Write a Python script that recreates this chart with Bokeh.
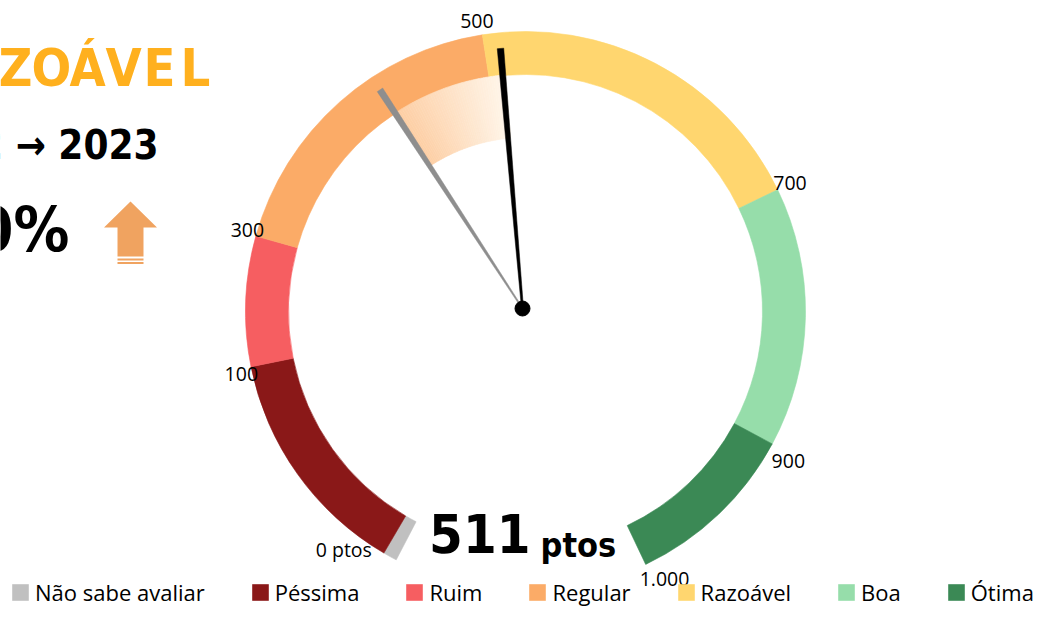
import numpy as np
from bokeh.plotting import figure
from bokeh.models import Range1d, ColumnDataSource
from bokeh.core.properties import value
from bokeh.embed import file_html
from bokeh.resources import INLINE

# ---------------- data ----------------
categories = ["Não sabe avaliar", "Péssima", "Ruim", "Regular", "Razoável", "Boa", "Ótima"]
segment_pct = [0.8, 13.4, 7.5, 18.2, 20.3, 15.0, 10.1]      # share of the full doughnut (%)
boundary_scores = [0, 100, 300, 500, 700, 900, 1000]
boundary_labels = ["0 ptos", "100", "300", "500", "700", "900", "1.000"]
years = ["2022", "2023"]
scores = [426, 511]                                          # 2022, 2023
current_class = "RAZOÁVEL"

# ---------------- style ----------------
seg_colors = ["#C0C0C0", "#8A1818", "#F65E61", "#FBAB67", "#FFD66F", "#96DDAA", "#3B8955"]
ORANGE = "#FFB01E"
ARROW_C = "#F0A360"
NARROW = "'DejaVu Sans Condensed', Roboto, sans-serif"
LABEL_FONT = "Open Sans"

W, H = 1040, 607
SHIFT = 5                     # gauge moved up a little so the legend fits
# picture pixel coordinates: x right, y up = -picture_y
CX, CY = 525, -316 + SHIFT    # ring centre
PX, PY = 522, -313 + SHIFT    # needle pivot
R_OUT, R_IN = 280, 237
FIRST_ANGLE = -152.5          # clockwise from 12 o'clock
NEEDLE_LEN = 261

p = figure(width=W, height=H, x_range=Range1d(0, W), y_range=Range1d(-H, 0),
           output_backend="svg", toolbar_location=None, min_border=0,
           x_axis_location=None, y_axis_location=None)
p.xgrid.visible = False
p.ygrid.visible = False
p.outline_line_color = None
p.background_fill_color = "white"


def to_math(theta_deg):
    return np.radians(90.0 - np.asarray(theta_deg, dtype=float))


deg = np.array(segment_pct) * 3.6
edges = FIRST_ANGLE + np.concatenate([[0.0], np.cumsum(deg)])
bound_angles = edges[1:]


def score_angle(s):
    return float(np.interp(s, boundary_scores, bound_angles))


# ring segments
src = ColumnDataSource(dict(cat=categories, color=seg_colors,
                            start=to_math(edges[1:]), end=to_math(edges[:-1])))
p.annular_wedge(x=CX, y=CY, inner_radius=R_IN, outer_radius=R_OUT,
                start_angle="start", end_angle="end", fill_color="color",
                line_color="color", line_width=0.6, source=src, legend_field="cat")

# pale gradient band between previous and current score
a_prev, a_cur = score_angle(scores[0]), score_angle(scores[1])
n = 48
ths = np.linspace(a_prev, a_cur, n + 1)
c0 = np.array([0xFD, 0xCE, 0xA4]); c1 = np.array([0xFF, 0xF6, 0xEA])
grad_cols = []
for i in range(n):
    t = i / (n - 1)
    c = (c0 * (1 - t) + c1 * t).round().astype(int)
    grad_cols.append("#%02X%02X%02X" % tuple(c))
p.annular_wedge(x=CX, y=CY, inner_radius=174, outer_radius=R_IN + 0.5,
                start_angle=to_math(ths[1:]), end_angle=to_math(ths[:-1]),
                fill_color=grad_cols, line_color=grad_cols, line_width=0.6)


def needle(theta, w_base, w_tip, color):
    t = np.radians(theta)
    ux, uy = np.sin(t), np.cos(t)
    nx, ny = np.cos(t), -np.sin(t)
    tx, ty = PX + ux * NEEDLE_LEN, PY + uy * NEEDLE_LEN
    xs = [PX + nx * w_base / 2, tx + nx * w_tip / 2, tx - nx * w_tip / 2, PX - nx * w_base / 2]
    ys = [PY + ny * w_base / 2, ty + ny * w_tip / 2, ty - ny * w_tip / 2, PY - ny * w_base / 2]
    p.patch(xs, ys, fill_color=color, line_color=color, line_width=0.5)


needle(a_prev, 1.2, 6.5, "#8E8E8E")
needle(a_cur, 2.0, 6.5, "#000000")
p.circle(x=[PX], y=[PY], radius=7.5, fill_color="black", line_color="black")

# boundary labels
label_offsets = [(-32, 17), (6, -4), (7, 2), (-3, -2), (-2, 0), (2, -10), (12, 0)]
R_LAB = 296
lx, ly = [], []
for a, (ox, oy) in zip(bound_angles, label_offsets):
    t = np.radians(a)
    lx.append(CX + R_LAB * np.sin(t) + ox)
    ly.append(CY + R_LAB * np.cos(t) + oy)
p.text(x=lx, y=ly, text=boundary_labels, text_font=value(LABEL_FONT),
       text_font_size=value("19.5px"), text_color="black",
       text_align="center", text_baseline="middle")

# centre score text (y = middle of capitals)
p.text(x=[530], y=[-537.5 + SHIFT], text=[str(scores[1])], text_font=value(NARROW),
       text_font_style="bold", text_font_size=value("54px"), text_color="black",
       text_align="right", text_baseline="middle")
p.text(x=[540], y=[-549.5 + SHIFT], text=["ptos"], text_font=value(NARROW),
       text_font_style="bold", text_font_size=value("34px"), text_color="black",
       text_align="left", text_baseline="middle")

# left panel: class name (letter-spaced), years, variation, arrow
letters = list(current_class)
LX0, LSTEP = 15 - 2 * 36, 36
p.text(x=[LX0 + i * LSTEP for i in range(len(letters))], y=[-67.5] * len(letters),
       text=letters, text_font=value(NARROW), text_font_style="bold",
       text_font_size=value("52px"), text_color=ORANGE,
       text_align="center", text_baseline="middle")
p.text(x=[158], y=[-144], text=[f"{years[0]} \u2192 {years[1]}"], text_font=value(NARROW),
       text_font_style="bold", text_font_size=value("40px"), text_color="black",
       text_align="right", text_baseline="middle")
pct = round((scores[1] / scores[0] - 1) * 100)
p.text(x=[69], y=[-229], text=[f"+{pct}%"], text_font=value(NARROW),
       text_font_style="bold", text_font_size=value("62px"), text_color="black",
       text_align="right", text_baseline="middle")

# up arrow icon
AX, ATOP, AW, HEAD_H, SHAFT_W, SHAFT_BOT = 130, -201, 53, 26, 26, -256
p.patch([AX, AX + AW / 2, AX + SHAFT_W / 2, AX + SHAFT_W / 2, AX - SHAFT_W / 2, AX - SHAFT_W / 2, AX - AW / 2],
        [ATOP, ATOP - HEAD_H, ATOP - HEAD_H, SHAFT_BOT, SHAFT_BOT, ATOP - HEAD_H, ATOP - HEAD_H],
        fill_color=ARROW_C, line_color=None)
p.quad(left=[AX - SHAFT_W / 2] * 2, right=[AX + SHAFT_W / 2] * 2,
       top=[SHAFT_BOT - 2, SHAFT_BOT - 5.5], bottom=[SHAFT_BOT - 4, SHAFT_BOT - 7.5],
       fill_color=ARROW_C, line_color=None)

# legend
lg = p.legend[0]
lg.orientation = "horizontal"
lg.location = (10, 0)
lg.label_text_font = LABEL_FONT
lg.label_text_font_size = "22px"
lg.label_text_color = "black"
lg.glyph_width = 20
lg.glyph_height = 20
lg.label_standoff = 5
lg.spacing = 45
lg.padding = 0
lg.margin = 0
lg.border_line_color = None
lg.background_fill_alpha = 0

open("out.html", "w").write(file_html(p, INLINE))
